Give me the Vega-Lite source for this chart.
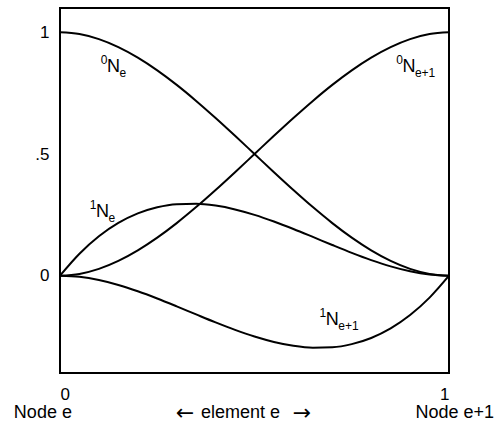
{
  "$schema": "https://vega.github.io/schema/vega-lite/v6.json",
  "width": 389,
  "height": 365,
  "autosize": {"type": "none"},
  "padding": {"left": 60, "top": 8, "right": 48, "bottom": 50},
  "background": "white",
  "config": {
    "view": {"stroke": "black", "strokeWidth": 2},
    "font": "Liberation Sans",
    "axis": {"grid": false, "domain": false, "ticks": false, "labelFont": "Liberation Sans", "labelFontSize": 17, "labelColor": "black"}
  },
  "datasets": {
    "curves": [
      {"s": "0Ne", "x": 0, "y": 1}, {"s": "0Ne", "x": 0.05, "y": 0.99275}, {"s": "0Ne", "x": 0.1, "y": 0.972}, {"s": "0Ne", "x": 0.15, "y": 0.93925}, {"s": "0Ne", "x": 0.2, "y": 0.896}, {"s": "0Ne", "x": 0.25, "y": 0.84375}, {"s": "0Ne", "x": 0.3, "y": 0.784}, {"s": "0Ne", "x": 0.35, "y": 0.71825}, {"s": "0Ne", "x": 0.4, "y": 0.648}, {"s": "0Ne", "x": 0.45, "y": 0.57475}, {"s": "0Ne", "x": 0.5, "y": 0.5}, {"s": "0Ne", "x": 0.55, "y": 0.42525}, {"s": "0Ne", "x": 0.6, "y": 0.352}, {"s": "0Ne", "x": 0.65, "y": 0.28175}, {"s": "0Ne", "x": 0.7, "y": 0.216}, {"s": "0Ne", "x": 0.75, "y": 0.15625}, {"s": "0Ne", "x": 0.8, "y": 0.104}, {"s": "0Ne", "x": 0.85, "y": 0.06075}, {"s": "0Ne", "x": 0.9, "y": 0.028}, {"s": "0Ne", "x": 0.95, "y": 0.00725}, {"s": "0Ne", "x": 1, "y": 0},
      {"s": "0Ne1", "x": 0, "y": 0}, {"s": "0Ne1", "x": 0.05, "y": 0.00725}, {"s": "0Ne1", "x": 0.1, "y": 0.028}, {"s": "0Ne1", "x": 0.15, "y": 0.06075}, {"s": "0Ne1", "x": 0.2, "y": 0.104}, {"s": "0Ne1", "x": 0.25, "y": 0.15625}, {"s": "0Ne1", "x": 0.3, "y": 0.216}, {"s": "0Ne1", "x": 0.35, "y": 0.28175}, {"s": "0Ne1", "x": 0.4, "y": 0.352}, {"s": "0Ne1", "x": 0.45, "y": 0.42525}, {"s": "0Ne1", "x": 0.5, "y": 0.5}, {"s": "0Ne1", "x": 0.55, "y": 0.57475}, {"s": "0Ne1", "x": 0.6, "y": 0.648}, {"s": "0Ne1", "x": 0.65, "y": 0.71825}, {"s": "0Ne1", "x": 0.7, "y": 0.784}, {"s": "0Ne1", "x": 0.75, "y": 0.84375}, {"s": "0Ne1", "x": 0.8, "y": 0.896}, {"s": "0Ne1", "x": 0.85, "y": 0.93925}, {"s": "0Ne1", "x": 0.9, "y": 0.972}, {"s": "0Ne1", "x": 0.95, "y": 0.99275}, {"s": "0Ne1", "x": 1, "y": 1},
      {"s": "1Ne", "x": 0, "y": 0}, {"s": "1Ne", "x": 0.05, "y": 0.09025}, {"s": "1Ne", "x": 0.1, "y": 0.162}, {"s": "1Ne", "x": 0.15, "y": 0.21675}, {"s": "1Ne", "x": 0.2, "y": 0.256}, {"s": "1Ne", "x": 0.25, "y": 0.28125}, {"s": "1Ne", "x": 0.3, "y": 0.294}, {"s": "1Ne", "x": 0.35, "y": 0.29575}, {"s": "1Ne", "x": 0.4, "y": 0.288}, {"s": "1Ne", "x": 0.45, "y": 0.27225}, {"s": "1Ne", "x": 0.5, "y": 0.25}, {"s": "1Ne", "x": 0.55, "y": 0.22275}, {"s": "1Ne", "x": 0.6, "y": 0.192}, {"s": "1Ne", "x": 0.65, "y": 0.15925}, {"s": "1Ne", "x": 0.7, "y": 0.126}, {"s": "1Ne", "x": 0.75, "y": 0.09375}, {"s": "1Ne", "x": 0.8, "y": 0.064}, {"s": "1Ne", "x": 0.85, "y": 0.03825}, {"s": "1Ne", "x": 0.9, "y": 0.018}, {"s": "1Ne", "x": 0.95, "y": 0.00475}, {"s": "1Ne", "x": 1, "y": 0},
      {"s": "1Ne1", "x": 0, "y": 0}, {"s": "1Ne1", "x": 0.05, "y": -0.00475}, {"s": "1Ne1", "x": 0.1, "y": -0.018}, {"s": "1Ne1", "x": 0.15, "y": -0.03825}, {"s": "1Ne1", "x": 0.2, "y": -0.064}, {"s": "1Ne1", "x": 0.25, "y": -0.09375}, {"s": "1Ne1", "x": 0.3, "y": -0.126}, {"s": "1Ne1", "x": 0.35, "y": -0.15925}, {"s": "1Ne1", "x": 0.4, "y": -0.192}, {"s": "1Ne1", "x": 0.45, "y": -0.22275}, {"s": "1Ne1", "x": 0.5, "y": -0.25}, {"s": "1Ne1", "x": 0.55, "y": -0.27225}, {"s": "1Ne1", "x": 0.6, "y": -0.288}, {"s": "1Ne1", "x": 0.65, "y": -0.29575}, {"s": "1Ne1", "x": 0.7, "y": -0.294}, {"s": "1Ne1", "x": 0.75, "y": -0.28125}, {"s": "1Ne1", "x": 0.8, "y": -0.256}, {"s": "1Ne1", "x": 0.85, "y": -0.21675}, {"s": "1Ne1", "x": 0.9, "y": -0.162}, {"s": "1Ne1", "x": 0.95, "y": -0.09025}, {"s": "1Ne1", "x": 1, "y": 0}
    ],
    "labels": [
      {"x": 0.1375, "y": 0.859, "sup": "0", "sub": "e"},
      {"x": 0.897, "y": 0.859, "sup": "0", "sub": "e+1"},
      {"x": 0.109, "y": 0.263, "sup": "1", "sub": "e"},
      {"x": 0.7, "y": -0.182, "sup": "1", "sub": "e+1"}
    ],
    "bottom": [
      {"x": -0.044, "y": -0.563, "t": "Node e"},
      {"x": 0.464, "y": -0.563, "t": "element e"},
      {"x": 1.015, "y": -0.563, "t": "Node e+1"}
    ],
    "arrows": [
      {"x": 0.321, "y": -0.563, "t": "←"},
      {"x": 0.622, "y": -0.563, "t": "→"}
    ]
  },
  "layer": [
    {
      "data": {"name": "curves"},
      "mark": {"type": "line", "color": "black", "strokeWidth": 2, "interpolate": "monotone"},
      "encoding": {
        "x": {"field": "x", "type": "quantitative", "scale": {"domain": [0, 1], "nice": false},
              "axis": {"title": null, "values": [0, 1], "format": "d", "labelPadding": 13}},
        "y": {"field": "y", "type": "quantitative", "scale": {"domain": [-0.4, 1.1], "nice": false, "zero": false},
              "axis": {"title": null, "values": [0, 0.5, 1], "labelPadding": 11, "labelExpr": "datum.value == 0.5 ? '.5' : format(datum.value, 'd')"}},
        "detail": {"field": "s", "type": "nominal"}
      }
    },
    {
      "data": {"name": "labels"},
      "mark": {"type": "text", "text": "N", "fontSize": 18, "align": "center", "baseline": "middle", "color": "black"},
      "encoding": {
        "x": {"field": "x", "type": "quantitative"},
        "y": {"field": "y", "type": "quantitative"}
      }
    },
    {
      "data": {"name": "labels"},
      "mark": {"type": "text", "fontSize": 12, "align": "right", "baseline": "middle", "dx": -6, "dy": -7, "color": "black"},
      "encoding": {
        "x": {"field": "x", "type": "quantitative"},
        "y": {"field": "y", "type": "quantitative"},
        "text": {"field": "sup"}
      }
    },
    {
      "data": {"name": "labels"},
      "mark": {"type": "text", "fontSize": 12, "align": "left", "baseline": "middle", "dx": 6, "dy": 6, "color": "black"},
      "encoding": {
        "x": {"field": "x", "type": "quantitative"},
        "y": {"field": "y", "type": "quantitative"},
        "text": {"field": "sub"}
      }
    },
    {
      "data": {"name": "bottom"},
      "mark": {"type": "text", "fontSize": 18, "align": "center", "baseline": "middle", "color": "black"},
      "encoding": {
        "x": {"field": "x", "type": "quantitative"},
        "y": {"field": "y", "type": "quantitative"},
        "text": {"field": "t"}
      }
    },
    {
      "data": {"name": "arrows"},
      "mark": {"type": "text", "font": "DejaVu Sans", "fontSize": 22, "align": "center", "baseline": "middle", "color": "black"},
      "encoding": {
        "x": {"field": "x", "type": "quantitative"},
        "y": {"field": "y", "type": "quantitative"},
        "text": {"field": "t"}
      }
    }
  ]
}
